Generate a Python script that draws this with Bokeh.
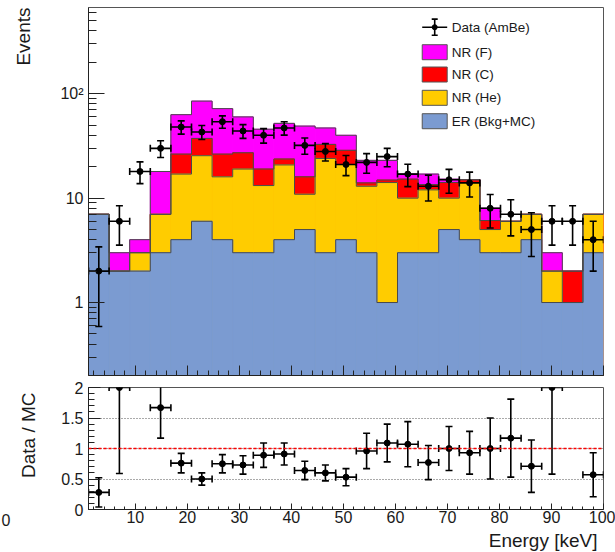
import math
from bokeh.plotting import figure
from bokeh.layouts import column
from bokeh.models import (Label, Span, FixedTicker, LogTicker, SingleIntervalTicker,
                          CustomJSTickFormatter)
from bokeh.embed import file_html
from bokeh.resources import INLINE
from bokeh.core.properties import value

# ---------------- data ----------------
bin_edges = [1.00, 4.96, 8.92, 12.88, 16.84, 20.80, 24.76, 28.72, 32.68, 36.64, 40.60,
             44.56, 48.52, 52.48, 56.44, 60.40, 64.36, 68.32, 72.28, 76.24, 80.20,
             84.16, 88.12, 92.08, 96.04, 100.00]
er_bkg = [7, 2, 2, 3, 4, 6, 4, 3, 3, 4, 5, 3, 4, 3, 1, 3, 3, 5, 4, 3, 3, 4, 1, 1, 3]
nr_he = [0, 0, 1, 4, 13, 19.5, 12, 16, 10.2, 16.8, 5.9, 21, 17, 10, 13.1, 7, 9, 5, 10.1, 2, 3, 3, 1, 0, 4]
nr_c = [0, 0, 0, 0, 9.4, 11.8, 10.4, 8.2, 5.8, 2.9, 5.1, 8.7, 7.7, 1, 0.8, 5.2, 1.5, 4.1, 0.9, 1.1, 0, 0, 0, 1, 0]
nr_f = [0, 1, 1, 11, 36.6, 47.7, 45.6, 32.8, 26.7, 28.3, 33, 14.3, 11.3, 9, 8.1, 1.8, 3.5, 1.1, 0, 1.9, 0, 0, 1, 0, 0]
data_counts = [2, 6, 18, 30, 48, 43, 54, 44, 40, 47, 32, 28, 21, 22, 25, 17, 13, 15, 14, 8, 7, 5, 6, 6, 4]
data_err = [1.41, 2.45, 4.24, 5.48, 6.93, 6.56, 7.35, 6.63, 6.32, 6.86, 5.66, 5.29, 4.58, 4.69,
            5.00, 4.12, 3.61, 3.87, 3.74, 2.83, 2.65, 2.24, 2.45, 2.45, 2.00]
ratio = [0.28, 2.0, None, 1.67, 0.76, 0.50, 0.75, 0.73, 0.89, 0.91, 0.64, 0.60, 0.53,
         0.96, 1.09, 1.07, 0.77, 1.00, 0.93, 1.00, 1.17, 0.71, 2.0, None, 0.57]
ratio_err = [0.24, 1.41, None, 0.50, 0.16, 0.10, 0.15, 0.15, 0.20, 0.18, 0.15, 0.13, 0.14,
             0.29, 0.31, 0.37, 0.28, 0.36, 0.35, 0.50, 0.64, 0.43, 1.42, None, 0.36]
legend_labels = ["Data (AmBe)", "NR (F)", "NR (C)", "NR (He)", "ER (Bkg+MC)"]
x_ticks = [10, 20, 30, 40, 50, 60, 70, 80, 90, 100]

# ---------------- styles ----------------
FONT = "Liberation Sans"
C_F, C_C, C_HE, C_ER = "#FF00FF", "#FF0000", "#FFCC00", "#7B9BD1"
EDGE = "#4a4a4a"
TXT = "#1a1a1a"
X0, X1 = 1, 100
Y0, Y1 = 0.2, 670

W = 615
LB, RB = 88, 12
H1, TOP1, BOT1 = 381, 7, 6
H2, TOP2, BOT2 = 171, 6, 43
FW = W - LB - RB
FH1 = H1 - TOP1 - BOT1
FH2 = H2 - TOP2 - BOT2

n = len(er_bkg)
lefts = bin_edges[:-1]
rights = bin_edges[1:]
centers = [(a + b) / 2 for a, b in zip(lefts, rights)]

cum_er = list(er_bkg)
cum_he = [a + b for a, b in zip(cum_er, nr_he)]
cum_c = [a + b for a, b in zip(cum_he, nr_c)]
cum_f = [a + b for a, b in zip(cum_c, nr_f)]


def style_axis(ax, maj, mnr, fs="16px"):
    ax.major_tick_in = maj
    ax.major_tick_out = 0
    ax.minor_tick_in = mnr
    ax.minor_tick_out = 0
    ax.axis_line_color = "#222222"
    ax.major_tick_line_color = "#222222"
    ax.minor_tick_line_color = "#222222"
    ax.major_label_text_font = FONT
    ax.major_label_text_font_size = fs
    ax.major_label_text_color = TXT


def side_label(text, x, y, angle=0.0, align="left", size="19px"):
    return Label(x=x, y=y, x_units="screen", y_units="screen", text=text, angle=angle,
                 text_align=align, text_baseline="alphabetic", text_font=FONT,
                 text_font_size=size, text_color=TXT)


# ---------------- upper panel ----------------
p1 = figure(width=W, height=H1, x_range=(X0, X1), y_range=(Y0, Y1), y_axis_type="log",
            output_backend="svg", toolbar_location=None,
            min_border_left=LB, min_border_right=RB, min_border_top=TOP1, min_border_bottom=BOT1)
p1.xgrid.visible = False
p1.ygrid.visible = False
p1.outline_line_color = "#555555"
p1.background_fill_color = "white"
p1.border_fill_color = "white"

style_axis(p1.xaxis[0], 10, 5)
p1.xaxis[0].ticker = SingleIntervalTicker(interval=10, num_minor_ticks=5)
p1.xaxis[0].major_label_text_alpha = 0
p1.xaxis[0].major_label_text_font_size = "1px"
p1.xaxis[0].major_label_standoff = 0

style_axis(p1.yaxis[0], 16, 8)
p1.yaxis[0].ticker = LogTicker(num_minor_ticks=10)
p1.yaxis[0].formatter = CustomJSTickFormatter(
    code="if (Math.abs(tick - 100) < 1e-6) { return '10\u00b2'; } return tick.toString();")
p1.yaxis[0].major_label_standoff = 5

# stacked fills, painted from the total down
for cum, col in [(cum_f, C_F), (cum_c, C_C), (cum_he, C_HE), (cum_er, C_ER)]:
    p1.quad(left=lefts, right=rights, bottom=[1e-3] * n, top=cum,
            fill_color=col, line_color=col, line_width=1)
# step outlines of every stacked level
for cum in [cum_er, cum_he, cum_c, cum_f]:
    p1.step(x=bin_edges, y=list(cum) + [cum[-1]], mode="after", line_color=EDGE, line_width=1)

# data points with error bars
d_lo = [v - e for v, e in zip(data_counts, data_err)]
d_hi = [v + e for v, e in zip(data_counts, data_err)]
p1.segment(x0=centers, y0=d_lo, x1=centers, y1=d_hi, line_color="black", line_width=1.6)
p1.segment(x0=lefts, y0=data_counts, x1=rights, y1=data_counts, line_color="black", line_width=1.6)
p1.scatter(x=centers + centers, y=d_lo + d_hi, marker="dash", size=7, line_color="black", line_width=1.6)
p1.scatter(x=lefts + rights, y=data_counts + data_counts, marker="dash", angle=math.pi / 2,
           size=7, line_color="black", line_width=1.6)
p1.scatter(x=centers, y=data_counts, marker="circle", size=6, color="black")


# legend (positions given as fractions of the frame)
def fx(f):
    return X0 + f * (X1 - X0)


def fy(f):
    return 10 ** (math.log10(Y0) + f * (math.log10(Y1) - math.log10(Y0)))


rows = [0.9465, 0.8785, 0.8179, 0.7546, 0.6910]
bx0, bx1, bh = 0.648, 0.6965, 0.0204
for r, col in zip(rows[1:], [C_F, C_C, C_HE, C_ER]):
    p1.quad(left=[fx(bx0)], right=[fx(bx1)], bottom=[fy(r - bh)], top=[fy(r + bh)],
            fill_color=col, line_color="#555555", line_width=1)
r0 = rows[0]
bxc = fx((bx0 + bx1) / 2)
p1.segment(x0=[fx(bx0)], y0=[fy(r0)], x1=[fx(bx1)], y1=[fy(r0)], line_color="black", line_width=1.6)
p1.segment(x0=[bxc], y0=[fy(r0 - 0.022)], x1=[bxc], y1=[fy(r0 + 0.022)],
           line_color="black", line_width=1.6)
p1.scatter(x=[bxc] * 2, y=[fy(r0 - 0.022), fy(r0 + 0.022)], marker="dash", size=6,
           line_color="black", line_width=1.6)
p1.scatter(x=[bxc], y=[fy(r0)], marker="circle", size=5, color="black")
p1.text(x=[fx(0.7052)] * 5, y=[fy(r) for r in rows], text=legend_labels,
        text_font=value(FONT), text_font_size="13.5px", text_baseline="middle", text_color=TXT)

# axis title placed in the left side panel (not clipped to the frame)
p1.add_layout(side_label("Events", -13, FH1, angle=math.pi / 2, align="right"), "left")

# ---------------- ratio panel ----------------
p2 = figure(width=W, height=H2, x_range=p1.x_range, y_range=(0, 2),
            output_backend="svg", toolbar_location=None,
            min_border_left=LB, min_border_right=RB, min_border_top=TOP2, min_border_bottom=BOT2)
p2.outline_line_color = "#555555"
p2.xgrid.visible = False
p2.ygrid.ticker = FixedTicker(ticks=[0.5, 1.0, 1.5])
p2.ygrid.grid_line_color = "#555555"
p2.ygrid.grid_line_dash = "1 2"
p2.ygrid.grid_line_width = 1

style_axis(p2.xaxis[0], 6, 3)
p2.xaxis[0].ticker = FixedTicker(ticks=x_ticks,
                                 minor_ticks=[v for v in range(2, 101, 2) if v not in x_ticks])
p2.xaxis[0].major_label_standoff = 1
style_axis(p2.yaxis[0], 12, 6)
p2.yaxis[0].ticker = SingleIntervalTicker(interval=0.5, num_minor_ticks=5)
p2.yaxis[0].formatter = CustomJSTickFormatter(code="return (Math.round(tick*10)/10).toString();")
p2.yaxis[0].major_label_standoff = 5

p2.add_layout(Span(location=1.0, dimension="width", line_color="#FF0000", line_dash="3 2", line_width=1.5))

ok = [i for i in range(n) if ratio[i] is not None]
rc = [centers[i] for i in ok]
rl = [lefts[i] for i in ok]
rr = [rights[i] for i in ok]
rv = [ratio[i] for i in ok]
r_lo = [ratio[i] - ratio_err[i] for i in ok]
r_hi = [ratio[i] + ratio_err[i] for i in ok]
p2.segment(x0=rc, y0=r_lo, x1=rc, y1=r_hi, line_color="black", line_width=1.6)
p2.segment(x0=rl, y0=rv, x1=rr, y1=rv, line_color="black", line_width=1.6)
p2.scatter(x=rc + rc, y=r_lo + r_hi, marker="dash", size=7, line_color="black", line_width=1.6)
p2.scatter(x=rl + rr, y=rv + rv, marker="dash", angle=math.pi / 2, size=7, line_color="black", line_width=1.6)
p2.scatter(x=rc, y=rv, marker="circle", size=6, color="black")

p2.add_layout(side_label("Data / MC", -9, FH2 - 5, angle=math.pi / 2, align="right"), "left")
p2.add_layout(side_label("Energy [keV]", FW - 6, 6, align="right"), "below")
p2.add_layout(side_label("0", -27, -10, align="left", size="16px"), "left")

layout = column(p1, p2, spacing=0)
with open("out.html", "w", encoding="utf-8") as fh:
    fh.write(file_html(layout, INLINE))
